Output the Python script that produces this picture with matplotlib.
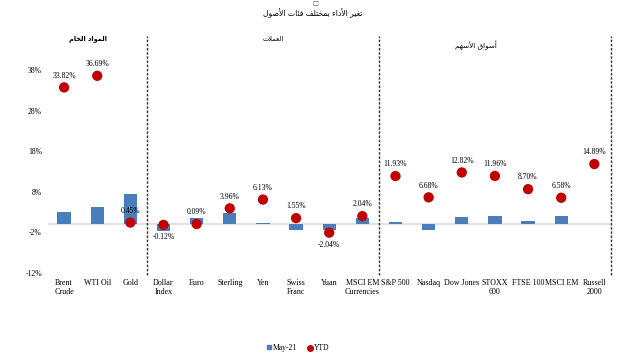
import matplotlib
matplotlib.use("Agg")
import matplotlib.pyplot as plt
from matplotlib.lines import Line2D
from matplotlib.patches import Patch

categories = ["Brent\nCrude", "WTI Oil", "Gold", "Dollar\nIndex", "Euro", "Sterling", "Yen",
              "Swiss\nFranc", "Yuan", "MSCI EM\nCurrencies", "S&P 500", "Nasdaq", "Dow Jones",
              "STOXX\n600", "FTSE 100", "MSCI EM", "Russell\n2000"]
may21 = [3.0, 4.2, 7.6, -1.6, 1.6, 2.9, 0.3, -1.5, -1.4, 1.6, 0.5, -1.5, 1.8, 2.0, 0.75, 2.0, 0.2]
ytd = [33.82, 36.69, 0.45, -0.12, 0.09, 3.96, 6.13, 1.55, -2.04, 2.04, 11.93, 6.68, 12.82,
       11.96, 8.70, 6.58, 14.89]
yticks = [-12, -2, 8, 18, 28, 38]


def vis(s):
    return s[::-1]

# Arabic text in pre-shaped presentation forms (visual order)
title = vis("\uFE97\uFED0\uFEF4\uFEAE \uFE8D\uFEF7\uFEA9\uFE8D\uFE80 \uFE91\uFEE4\uFEA8\uFE98\uFEE0\uFED2 \uFED3\uFE8C\uFE8E\uFE95 \uFE8D\uFEF7\uFEBB\uFEEE\uFEDD")
h1 = vis("\uFE8D\uFEDF\uFEE4\uFEEE\uFE8D\uFEA9 \uFE8D\uFEDF\uFEA8\uFE8E\uFEE1")
h2 = vis("\uFE8D\uFEDF\uFECC\uFEE4\uFEFC\uFE95")
h3 = vis("\uFE83\uFEB3\uFEEE\uFE8D\uFED5 \uFE8D\uFEF7\uFEB3\uFEEC\uFEE2")

serif = "Liberation Serif"
fig = plt.figure(figsize=(6.26, 3.57), dpi=100)
ax = fig.add_axes([0.0759, 0.2353, 0.900, 0.6637])

x = list(range(len(categories)))
ax.axhline(0, color="#E3E3E3", lw=1.6, zorder=1)
ax.bar(x, may21, width=0.4, color="#4A7EBB", zorder=2)
ax.scatter(x, ytd, s=55, color="#C00000", zorder=3, edgecolors="none")

for xi, v in zip(x, ytd):
    off = -9 if v < 0 else 8.5
    ax.annotate(f"{v:.2f}%", (xi, v), xytext=(0, off), textcoords="offset points",
                ha="center", va="center", fontsize=5.5, family=serif)

ax.set_xlim(-0.5, 16.5)
ax.set_ylim(-12, 46.5)
ax.set_yticks(yticks)
ax.set_yticklabels([f"{t}%" for t in yticks], family=serif, fontsize=5.5)
ax.set_xticks(x)
ax.set_xticklabels(categories, family=serif, fontsize=5.8, linespacing=1.15, va="top")
ax.tick_params(length=0)
ax.tick_params(axis="x", pad=4.5)
ax.tick_params(axis="y", pad=4)
for s in ax.spines.values():
    s.set_visible(False)

for xb in [2.5, 9.5, 16.5]:
    ax.plot([xb, xb], [-12.5, 46.5], ls=(0, (1.8, 1.2)), color="#303030", lw=1.0, clip_on=False, zorder=1)

fig.text(315 / 626, 1 - 3.5 / 357, "\u25a1", ha="center", va="center", fontsize=4.5, family="DejaVu Sans", color="#404040")
fig.text(0.5, 1 - 13 / 357, title, ha="center", va="center", fontsize=5.5, family="DejaVu Sans")
fig.text(88 / 626, 1 - 39 / 357, h1, ha="center", va="center", fontsize=4.8, family="DejaVu Sans", weight="bold")
fig.text(273 / 626, 1 - 39 / 357, h2, ha="center", va="center", fontsize=4.8, family="DejaVu Sans")
fig.text(476 / 626, 1 - 45 / 357, h3, ha="center", va="center", fontsize=5.2, family="DejaVu Sans")

handles = [Patch(color="#4A7EBB", label="May-21"),
           Line2D([], [], marker="o", ls="none", color="#C00000", markersize=4, label="YTD")]
leg = fig.legend(handles=handles, loc="center", bbox_to_anchor=(298 / 626, 1 - 348 / 357), ncol=2,
                 frameon=False, prop={"family": serif, "size": 5.5}, handlelength=0.5, handleheight=0.5,
                 handletextpad=0.2, columnspacing=1.5)

fig.savefig("out.png", dpi=100)
